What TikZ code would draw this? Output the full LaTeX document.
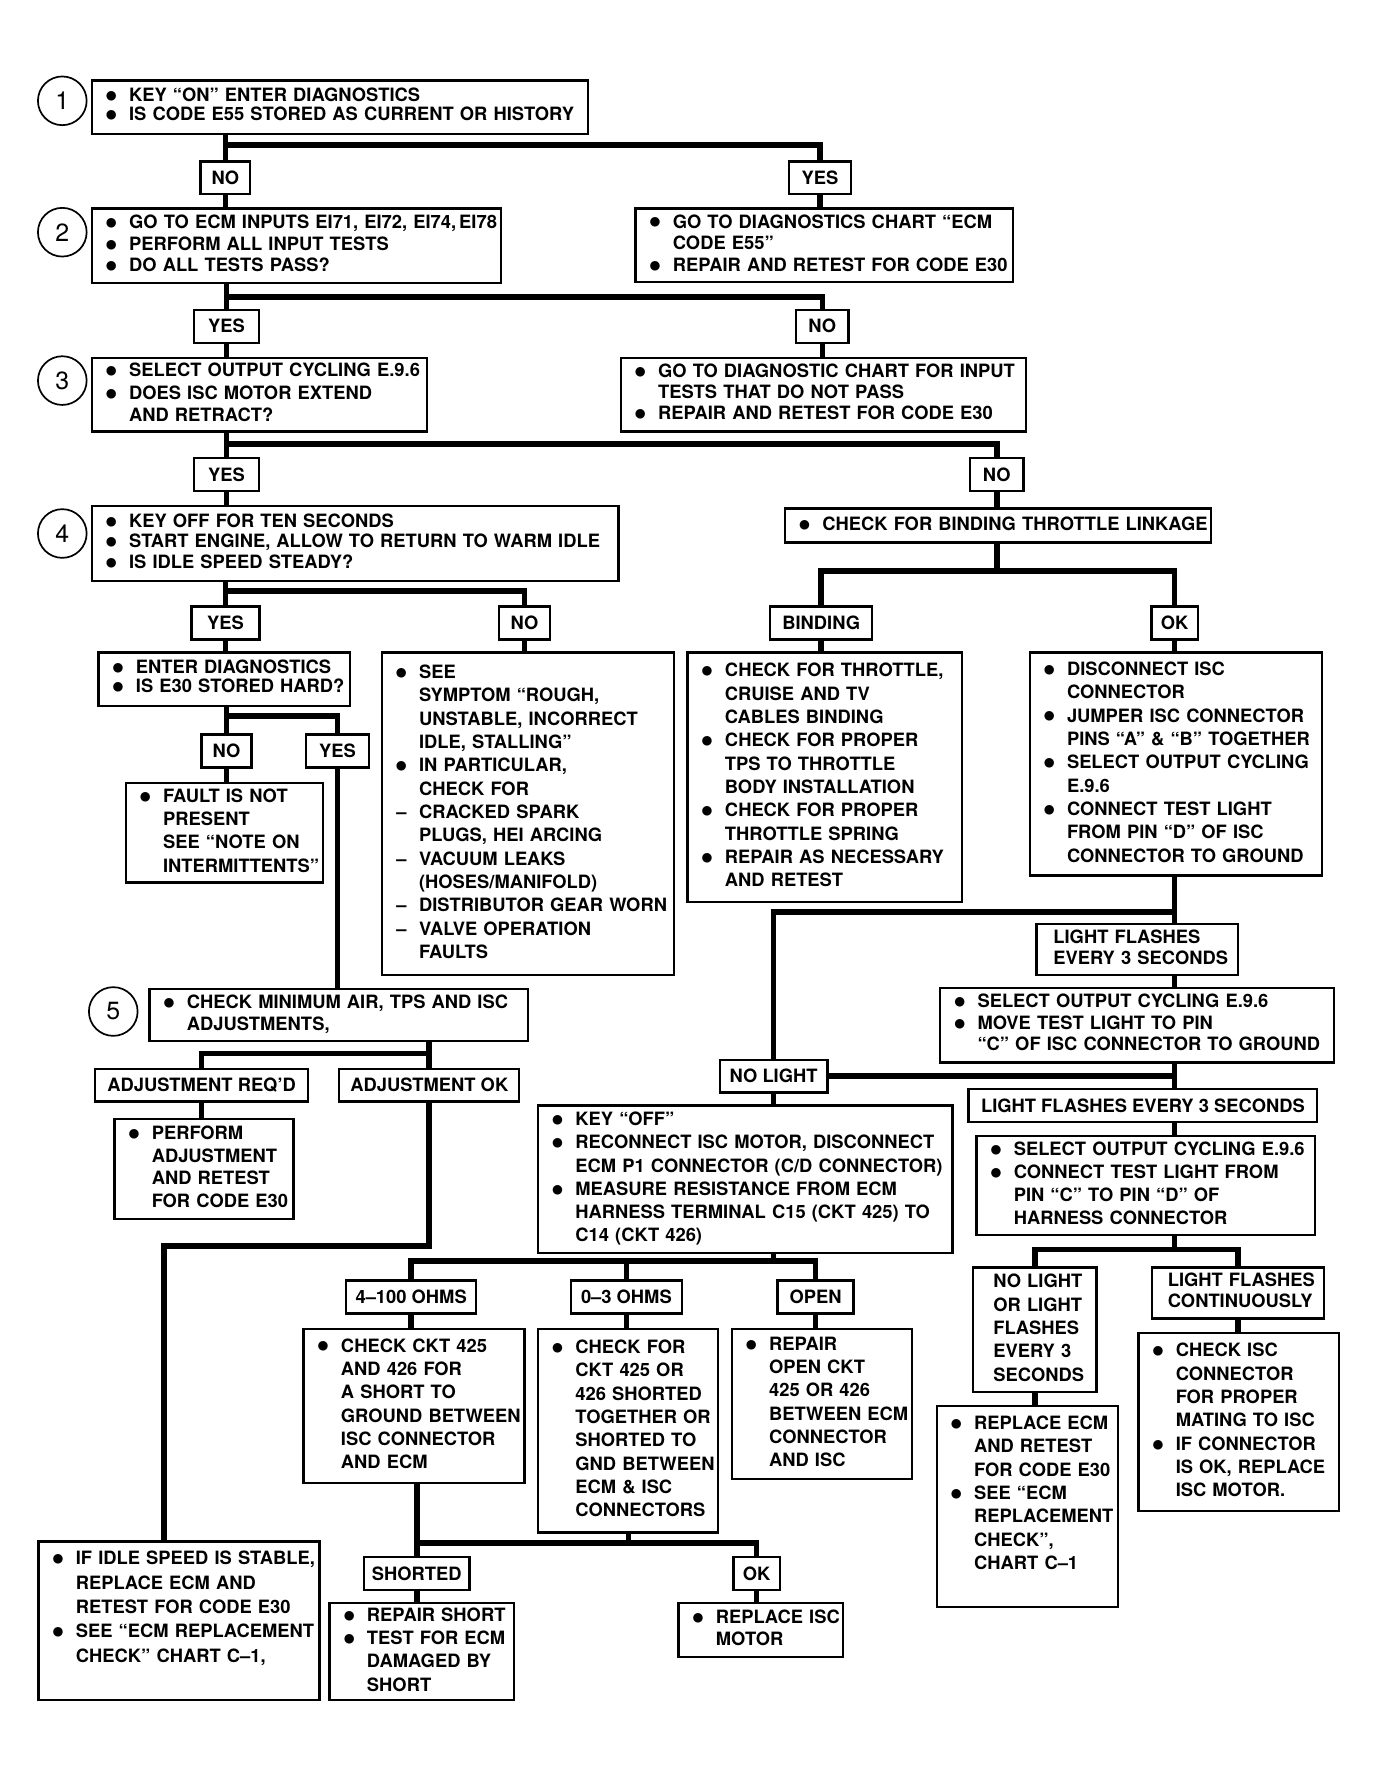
\documentclass[tikz,border=0pt]{standalone}
\usepackage{fontspec}
\setmainfont{TeX Gyre Heros}
\newfontfamily\symfont{DejaVu Sans}
\usepackage{tikz}

% bullet line, continued line, dash line
\newcommand{\bl}{\hspace*{12.5pt}\makebox[20.5pt][l]{\raisebox{1.8pt}{\symfont\fontsize{11}{11}\selectfont ●}}}
\newcommand{\cl}{\hspace*{33pt}}
\newcommand{\dl}{\hspace*{13pt}\makebox[20pt][l]{--}}
\newcommand{\tb}[1]{\begin{tabular}{@{}l@{}}#1\end{tabular}}

\tikzset{
  box/.style 2 args={draw, line width=2pt, anchor=north west, inner sep=0pt,
    align=left, text width=#1, minimum width=#1, minimum height=#2},
  lbl/.style={draw, fill=white, line width=2pt, inner sep=0pt,
    minimum width=#1, minimum height=29pt},
  conn/.style={line width=5pt},
  num/.style={draw, circle, line width=1.5pt, minimum size=43pt, inner sep=0pt,
    font=\mdseries\fontsize{22}{22}\selectfont},
  pitch/.style={font=\bfseries\fontsize{16.2}{#1}\selectfont}
}

\begin{document}
\begin{tikzpicture}[x=1pt, y=-1pt, font=\bfseries\fontsize{16.2}{20.6}\selectfont]
  \fill[white] (0,0) rectangle (1220,1575);
  \useasboundingbox (0,0) rectangle (1220,1575);
  % Steg
  \foreach \n/\y in {1/89,2/205,3/336,4/471}
    \node[num] (c\n) at (55,\y) {\n};
  \node[num] (c5) at (100,893) {5};

  % Rad 1
  \node[box={438pt}{47pt}, pitch=16.5] (b1) at (80,70)
    {\tb{\bl KEY ``ON'' ENTER DIAGNOSTICS\\ \bl IS CODE E55 STORED AS CURRENT OR HISTORY}};
  \node[lbl=44pt] (no1) at (199,157) {NO};
  \node[lbl=55pt] (yes1) at (724,157) {YES};

  % Rad 2
  \node[box={361pt}{66pt}, pitch=19] (b2) at (80,183)
    {\tb{\bl GO TO ECM INPUTS EI71, EI72, EI74,\,EI78\\ \bl PERFORM ALL INPUT TESTS\\ \bl DO ALL TESTS PASS?}};
  \node[box={333pt}{65pt}, pitch=19] (b2r) at (560,183)
    {\tb{\bl GO TO DIAGNOSTICS CHART ``ECM\\ \cl CODE E55''\\ \bl REPAIR AND RETEST FOR CODE E30}};
  \node[lbl=57pt] (yes2) at (200,288) {YES};
  \node[lbl=46pt] (no2) at (726,288) {NO};

  % Rad 3
  \node[box={296pt}{65pt}, pitch=20] (b3) at (80,315)
    {\tb{\bl SELECT OUTPUT CYCLING E.9.6\\ \bl DOES ISC MOTOR EXTEND\\ \cl AND RETRACT?}};
  \node[box={358pt}{65pt}, pitch=18.5] (b3r) at (547,315)
    {\tb{\bl GO TO DIAGNOSTIC CHART FOR INPUT\\ \cl TESTS THAT DO NOT PASS\\ \bl REPAIR AND RETEST FOR CODE E30}};
  \node[lbl=57pt] (yes3) at (200,419) {YES};
  \node[lbl=47pt] (no3) at (880,419) {NO};

  % Rad 4
  \node[box={465pt}{66pt}, pitch=18] (b4) at (80,446)
    {\tb{\bl KEY OFF FOR TEN SECONDS\\ \bl START ENGINE, ALLOW TO RETURN TO WARM IDLE\\ \bl IS IDLE SPEED STEADY?}};
  \node[box={376pt}{30pt}] (bind) at (692,448)
    {\tb{\bl CHECK FOR BINDING THROTTLE LINKAGE}};
  \node[lbl=60pt] (yes4) at (199,550) {YES};
  \node[lbl=45pt] (no4) at (463,550) {NO};
  \node[lbl=90pt] (binding) at (725,550) {BINDING};
  \node[lbl=41pt] (ok1) at (1037,550) {OK};

  \node[box={222pt}{47pt}, pitch=17] (b4a) at (86,575)
    {\tb{\bl ENTER DIAGNOSTICS\\ \bl IS E30 STORED HARD?}};
  \node[box={258pt}{285pt}] (b4b) at (336,575)
    {\tb{\bl SEE\\ \cl SYMPTOM ``ROUGH,\\ \cl UNSTABLE, INCORRECT\\ \cl IDLE, STALLING''\\
      \bl IN PARTICULAR,\\ \cl CHECK FOR\\ \dl CRACKED SPARK\\ \cl PLUGS, HEI ARCING\\
      \dl VACUUM LEAKS\\ \cl (HOSES/MANIFOLD)\\ \dl DISTRIBUTOR GEAR WORN\\
      \dl VALVE OPERATION\\ \cl FAULTS}};
  \node[box={242pt}{220pt}] (bbind) at (606,575)
    {\tb{\bl CHECK FOR THROTTLE,\\ \cl CRUISE AND TV\\ \cl CABLES BINDING\\
      \bl CHECK FOR PROPER\\ \cl TPS TO THROTTLE\\ \cl BODY INSTALLATION\\
      \bl CHECK FOR PROPER\\ \cl THROTTLE SPRING\\ \bl REPAIR AS NECESSARY\\ \cl AND RETEST}};
  \node[box={258pt}{197pt}] (bok) at (908,575)
    {\tb{\bl DISCONNECT ISC\\ \cl CONNECTOR\\ \bl JUMPER ISC CONNECTOR\\
      \cl PINS ``A'' \& ``B'' TOGETHER\\ \bl SELECT OUTPUT CYCLING\\ \cl E.9.6\\
      \bl CONNECT TEST LIGHT\\ \cl FROM PIN ``D'' OF ISC\\ \cl CONNECTOR TO GROUND}};

  \node[lbl=44pt] (no5) at (200,663) {NO};
  \node[lbl=56pt] (yes5) at (298,663) {YES};
  \node[box={174pt}{88pt}] (bfault) at (110,690)
    {\tb{\bl FAULT IS NOT\\ \cl PRESENT\\ \cl SEE ``NOTE ON\\ \cl INTERMITTENTS''}};

  % Rad 5
  \node[box={334pt}{46pt}, pitch=20] (b5) at (131,872)
    {\tb{\bl CHECK MINIMUM AIR, TPS AND ISC\\ \cl ADJUSTMENTS,}};
  \node[lbl=188pt] (adjreq) at (178,958) {ADJUSTMENT REQ'D};
  \node[lbl=159pt] (adjok) at (379,958) {ADJUSTMENT OK};
  \node[box={158pt}{88pt}, pitch=20] (bperf) at (100,987)
    {\tb{\bl PERFORM\\ \cl ADJUSTMENT\\ \cl AND RETEST\\ \cl FOR CODE E30}};
  \node[box={248pt}{140pt}, pitch=21.5] (bidle) at (33,1360)
    {\tb{\bl IF IDLE SPEED IS STABLE,\\ \cl REPLACE ECM AND\\ \cl RETEST FOR CODE E30\\
      \bl SEE ``ECM REPLACEMENT\\ \cl CHECK'' CHART C--1,\\ ~}};

  % Testlampa
  \node[box={178pt}{45pt}, pitch=18] (lf1) at (914,815)
    {\tb{\hspace*{15pt}LIGHT FLASHES\\ \hspace*{15pt}EVERY 3 SECONDS}};
  \node[box={348pt}{66pt}, pitch=19] (bmove) at (829,871)
    {\tb{\bl SELECT OUTPUT CYCLING E.9.6\\ \bl MOVE TEST LIGHT TO PIN\\ \cl ``C'' OF ISC CONNECTOR TO GROUND}};
  \node[lbl=95pt] (nolight) at (683,950) {NO LIGHT};
  \node[lbl=308pt] (lf2) at (1009,976) {LIGHT FLASHES EVERY 3 SECONDS};
  \node[box={299pt}{87pt}, pitch=20.5] (bconn) at (861,1002)
    {\tb{\bl SELECT OUTPUT CYCLING E.9.6\\ \bl CONNECT TEST LIGHT FROM\\ \cl PIN ``C'' TO PIN ``D'' OF\\ \cl HARNESS CONNECTOR}};
  \node[box={109pt}{110pt}] (nl2) at (858,1118)
    {\tb{\hspace*{18pt}NO LIGHT\\ \hspace*{18pt}OR LIGHT\\ \hspace*{18pt}FLASHES\\ \hspace*{18pt}EVERY 3\\ \hspace*{18pt}SECONDS}};
  \node[box={152pt}{45pt}, pitch=18] (lfc) at (1016,1118)
    {\tb{\hspace*{14pt}LIGHT FLASHES\\ \hspace*{14pt}CONTINUOUSLY}};
  \node[box={160pt}{178pt}] (brepl) at (826,1240)
    {\tb{\bl REPLACE ECM\\ \cl AND RETEST\\ \cl FOR CODE E30\\ \bl SEE ``ECM\\
      \cl REPLACEMENT\\ \cl CHECK'',\\ \cl CHART C--1\\ ~}};
  \node[box={177pt}{157pt}] (bcheck) at (1004,1176)
    {\tb{\bl CHECK ISC\\ \cl CONNECTOR\\ \cl FOR PROPER\\ \cl MATING TO ISC\\
      \bl IF CONNECTOR\\ \cl IS OK, REPLACE\\ \cl ISC MOTOR.}};

  % Resistans
  \node[box={366pt}{130pt}, pitch=20.5] (bkey) at (474,975)
    {\tb{\bl KEY ``OFF''\\ \bl RECONNECT ISC MOTOR, DISCONNECT\\ \cl ECM P1 CONNECTOR (C/D CONNECTOR)\\
      \bl MEASURE RESISTANCE FROM ECM\\ \cl HARNESS TERMINAL C15 (CKT 425) TO\\ \cl C14 (CKT 426)}};
  \node[lbl=115pt] (ohm1) at (363,1145) {4--100 OHMS};
  \node[lbl=98pt] (ohm2) at (553,1145) {0--3 OHMS};
  \node[lbl=67pt] (open) at (720,1145) {OPEN};
  \node[box={195pt}{136pt}] (b100) at (267,1172)
    {\tb{\bl CHECK CKT 425\\ \cl AND 426 FOR\\ \cl A SHORT TO\\ \cl GROUND BETWEEN\\ \cl ISC CONNECTOR\\ \cl AND ECM}};
  \node[box={159pt}{180pt}] (b03) at (474,1172)
    {\tb{\bl CHECK FOR\\ \cl CKT 425 OR\\ \cl 426 SHORTED\\ \cl TOGETHER OR\\ \cl SHORTED TO\\
      \cl GND BETWEEN\\ \cl ECM \& ISC\\ \cl CONNECTORS}};
  \node[box={159pt}{133pt}] (bopen) at (645,1172)
    {\tb{\bl REPAIR\\ \cl OPEN CKT\\ \cl 425 OR 426\\ \cl BETWEEN ECM\\ \cl CONNECTOR\\ \cl AND ISC}};
  \node[lbl=93pt] (shorted) at (368,1389) {SHORTED};
  \node[lbl=41pt] (ok2) at (668,1389) {OK};
  \node[box={163pt}{86pt}] (bshort) at (290,1414)
    {\tb{\bl REPAIR SHORT\\ \bl TEST FOR ECM\\ \cl DAMAGED BY\\ \cl SHORT}};
  \node[box={145pt}{48pt}, pitch=19] (brisc) at (598,1414)
    {\tb{\bl REPLACE ISC\\ \cl MOTOR}};

  % Linjer
  \coordinate (j1) at (199,128);
  \coordinate (j2) at (200,262);
  \coordinate (j3) at (200,392);
  \coordinate (j4) at (199,522);
  \coordinate (j5) at (880,504);
  \coordinate (j6) at (200,632);
  \coordinate (j7) at (379,930);
  \coordinate (j8) at (145,1100);
  \coordinate (j9) at (1037,805);
  \coordinate (j10) at (1037,1103);
  \coordinate (j11) at (683,1113);
  \coordinate (j12) at (555,1362);

  \draw[conn] (no1 |- b1.south) -- (no1.north);
  \draw[conn] (j1) -| (yes1.north);
  \draw[conn] (no1.south) -- (no1 |- b2.north);
  \draw[conn] (yes1.south) -- (yes1 |- b2r.north);

  \draw[conn] (yes2 |- b2.south) -- (yes2.north);
  \draw[conn] (j2) -| (no2.north);
  \draw[conn] (yes2.south) -- (yes2 |- b3.north);
  \draw[conn] (no2.south) -- (no2 |- b3r.north);

  \draw[conn] (yes3 |- b3.south) -- (yes3.north);
  \draw[conn] (j3) -| (no3.north);
  \draw[conn] (yes3.south) -- (yes3 |- b4.north);
  \draw[conn] (no3.south) -- (no3 |- bind.north);

  \draw[conn] (yes4 |- b4.south) -- (yes4.north);
  \draw[conn] (j4) -| (no4.north);
  \draw[conn] (yes4.south) -- (yes4 |- b4a.north);
  \draw[conn] (no4.south) -- (no4 |- b4b.north);
  \draw[conn] (no3 |- bind.south) -- (j5);
  \draw[conn] (binding.north) |- (j5) -| (ok1.north);
  \draw[conn] (binding.south) -- (binding |- bbind.north);
  \draw[conn] (ok1.south) -- (ok1 |- bok.north);

  \draw[conn] (no5 |- b4a.south) -- (no5.north);
  \draw[conn] (j6) -| (yes5.north);
  \draw[conn] (no5.south) -- (no5 |- bfault.north);
  \draw[conn] (yes5.south) -- (yes5 |- b5.north);

  \draw[conn] (adjok |- b5.south) -- (adjok.north);
  \draw[conn] (j7) -| (adjreq.north);
  \draw[conn] (adjreq.south) -- (adjreq |- bperf.north);
  \draw[conn] (adjok.south) |- (j8) -- (j8 |- bidle.north);

  \draw[conn] (ok1 |- bok.south) -- (ok1 |- lf1.north);
  \draw[conn] (j9) -| (nolight.north);
  \draw[conn] (ok1 |- lf1.south) -- (ok1 |- bmove.north);
  \draw[conn] (ok1 |- bmove.south) -- (ok1 |- lf2.north);
  \draw[conn] (nolight.east) -- (ok1 |- nolight.east);
  \draw[conn] (ok1 |- lf2.south) -- (ok1 |- bconn.north);
  \draw[conn] (ok1 |- bconn.south) -- (j10);
  \draw[conn] (nl2.north) |- (j10) -| (lfc.north);
  \draw[conn] (nl2.south) -- (nl2 |- brepl.north);
  \draw[conn] (lfc.south) -- (lfc |- bcheck.north);

  \draw[conn] (nolight.south) -- (nolight |- bkey.north);
  \draw[conn] (nolight |- bkey.south) -- (j11);
  \draw[conn] (ohm1.north) |- (j11) -| (open.north);
  \draw[conn] (ohm2.north) -- (ohm2 |- j11);
  \draw[conn] (ohm1.south) -- (ohm1 |- b100.north);
  \draw[conn] (ohm2.south) -- (ohm2 |- b03.north);
  \draw[conn] (open.south) -- (open |- bopen.north);

  \draw[conn] (shorted |- b100.south) -- (shorted.north);
  \draw[conn] (shorted.north) |- (j12) -| (ok2.north);
  \draw[conn] (j12) -- (j12 |- b03.south);
  \draw[conn] (shorted.south) -- (shorted |- bshort.north);
  \draw[conn] (ok2.south) -- (ok2 |- brisc.north);
\end{tikzpicture}
\end{document}
